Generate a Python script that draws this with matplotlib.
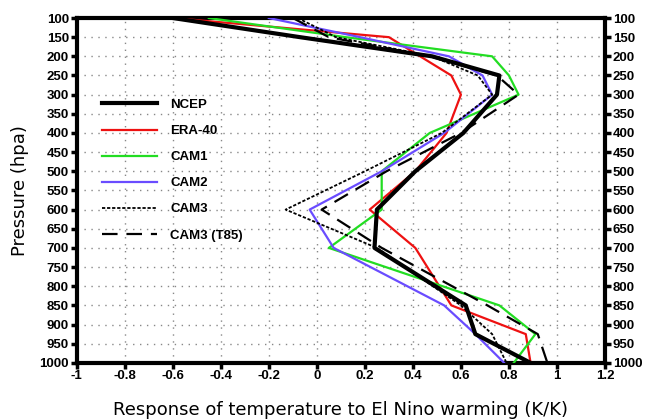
import numpy as np
import matplotlib
matplotlib.use("Agg")
import matplotlib.pyplot as plt
from matplotlib.font_manager import FontProperties

# pressure levels (hPa) and temperature response (K/K)
levels = [100, 150, 200, 250, 300, 400, 500, 600, 700, 850, 925, 1000]
ncep = [-0.60, -0.07, 0.48, 0.76, 0.75, 0.61, 0.41, 0.25, 0.24, 0.62, 0.66, 0.89]
era40 = [-0.60, 0.30, 0.43, 0.56, 0.60, 0.54, 0.41, 0.22, 0.41, 0.56, 0.87, 0.89]
cam1 = [-0.45, 0.12, 0.73, 0.80, 0.84, 0.47, 0.27, 0.27, 0.05, 0.76, 0.91, 0.82]
cam2 = [-0.20, 0.18, 0.55, 0.69, 0.73, 0.53, 0.27, -0.03, 0.07, 0.53, 0.66, 0.78]
cam3 = [-0.08, 0.08, 0.48, 0.67, 0.73, 0.52, 0.20, -0.13, 0.25, 0.60, 0.73, 0.79]
cam3_t85 = [-0.10, 0.05, 0.47, 0.75, 0.84, 0.60, 0.29, 0.02, 0.27, 0.71, 0.92, 0.96]

xticks = [-1, -0.8, -0.6, -0.4, -0.2, 0, 0.2, 0.4, 0.6, 0.8, 1, 1.2]
xtick_labels = ["-1", "-0.8", "-0.6", "-0.4", "-0.2", "0", "0.2", "0.4", "0.6", "0.8", "1", "1.2"]
yticks = list(range(100, 1001, 50))

fig = plt.figure(figsize=(6.45, 4.19), dpi=100)
ax = fig.add_axes([0.119, 0.134, 0.819, 0.823])

ax.plot(ncep, levels, color="black", lw=3.0, label="NCEP", zorder=5)
ax.plot(era40, levels, color="#ee1111", lw=1.6, label="ERA-40", zorder=4)
ax.plot(cam1, levels, color="#22dd22", lw=1.6, label="CAM1", zorder=4)
ax.plot(cam2, levels, color="#6a4cff", lw=1.6, label="CAM2", zorder=4)
ax.plot(cam3, levels, color="black", lw=1.3, dashes=(1.8, 1.0), label="CAM3", zorder=4)
ax.plot(cam3_t85, levels, color="black", lw=1.6, dashes=(7, 4), label="CAM3 (T85)", zorder=4)

ax.set_xlim(-1, 1.2)
ax.set_ylim(1000, 100)
ax.set_xticks(xticks)
ax.set_xticklabels(xtick_labels)
ax.set_yticks(yticks)
ax.grid(True, color="#888888", linestyle=(0, (1, 4)), lw=1.0)

tick_font = FontProperties(family="Liberation Sans", weight="bold", size=9.5)
ax.tick_params(axis="both", direction="out", length=4, width=2.5, pad=1.5)
ax.tick_params(axis="y", right=True, labelright=True)
for lab in ax.get_xticklabels():
    lab.set_fontproperties(tick_font)
for t in ax.yaxis.get_major_ticks():
    t.label1.set_fontproperties(tick_font)
    t.label2.set_fontproperties(tick_font)
for side in ax.spines.values():
    side.set_linewidth(3)

ax.set_xlabel("Response of temperature to El Nino warming (K/K)", fontsize=13, labelpad=13)
ax.set_ylabel("Pressure (hpa)", fontsize=13, labelpad=8)

ax.legend(loc="upper left", bbox_to_anchor=(0.025, 0.80), frameon=False,
          handlelength=4.2, handletextpad=1.0, labelspacing=1.05,
          prop=dict(family="Liberation Sans", weight="bold", size=9.5))

fig.savefig("out.png", dpi=100)
